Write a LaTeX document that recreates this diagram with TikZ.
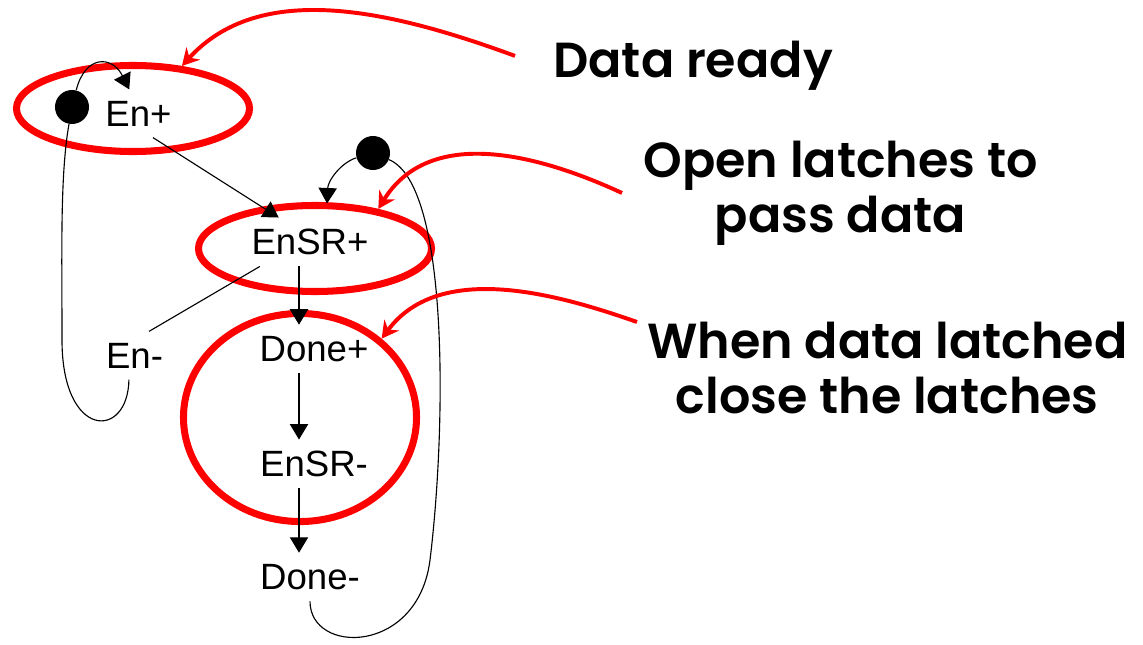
\documentclass[tikz,border=0pt]{standalone}
\usepackage{fontspec}
\setmainfont{Liberation Sans}
\newfontfamily\notefont{Poppins}[BoldFont={* SemiBold}]
\usepackage{tikz}
\usetikzlibrary{arrows.meta,shapes.geometric}
\definecolor{markred}{HTML}{FF0000}

\begin{document}
\begin{tikzpicture}[
  x=0.025cm, y=-0.025cm,
  >={Triangle[length=11pt,width=13pt]},
  state/.style={font=\fontsize{26}{30}\selectfont, inner sep=8pt},
  token/.style={circle, fill=black, inner sep=0pt, minimum size=0.85cm},
  flow/.style={->, line width=0.8pt},
  ring/.style={ellipse, draw=markred, line width=5pt, inner sep=0pt, minimum width=5.825cm},
  note/.style={font=\notefont\bfseries\fontsize{35}{39}\selectfont, align=center, inner ysep=0pt},
  markarrow/.style={draw=markred, line width=2.8pt, -{Stealth[length=12pt,width=13pt,inset=4pt]}}
]
  \useasboundingbox (0,0) rectangle (1143,644);

  % Red highlight rings
  \node[ring, minimum height=2.15cm] (e1) at (133,108.5) {};
  \node[ring, minimum height=2.15cm] (e2) at (315,248.5) {};
  \node[ring, minimum height=5.2cm] (e3) at (300,417.5) {};

  % Signal transitions
  \node[state] (Enp)   at (138.5,113.5) {En+};
  \node[state] (EnSRp) at (310,242)     {EnSR+};
  \node[state] (Enm)   at (134.5,355.5) {En-};
  \node[state] (Donep) at (314,349)     {Done+};
  \node[state] (EnSRm) at (314,464)     {EnSR-};
  \node[state] (Donem) at (310,577)     {Done-};

  % Tokens
  \node[token] (tok1) at (72,107) {};
  \node[token] (tok2) at (373,153) {};

  \coordinate (col) at (299,0);

  % Arcs
  \draw[flow] (Enp.-59) -- (EnSRp.142);
  \draw[line width=0.8pt] (EnSRp.206) -- (Enm.59);
  \draw[flow] (EnSRp.south -| col) -- (Donep.north -| col);
  \draw[flow] (Donep.south -| col) -- (EnSRm.north -| col);
  \draw[flow] (EnSRm.south -| col) -- (Donem.north -| col);

  % Loop back through the tokens
  \draw[line width=0.8pt] (Enm.257) .. controls (128,440) and (62,440) .. (62,340)
    .. controls (62,250) and (60,175) .. (tok1);
  \draw[flow] (tok1) .. controls (85,55) and (112,55) .. (Enp.111);
  \draw[line width=0.8pt] (Donem.south) .. controls (310,655) and (418,655) .. (430,560)
    .. controls (446,430) and (450,185) .. (tok2);
  \draw[flow, shorten >=10pt] (tok2) .. controls (342,162) and (328,180) .. (EnSRp.56);

  % Annotations
  \node[note, inner xsep=27pt, anchor=base west] (ready) at (515,77) {Data ready};
  \node[note, inner xsep=15pt, anchor=west] (open) at (622,193) {Open latches to\\pass data};
  \node[note, inner xsep=7pt, anchor=north west] (when) at (637,322) {When data latched\\close the latches};

  \draw[markarrow] (ready.177) .. controls (390,10) and (260,-20) .. (e1.41);
  \draw[markarrow] (open.west) .. controls (540,155) and (430,125) .. (e2.32);
  \draw[markarrow] (when.north west) .. controls (560,295) and (440,260) .. (e3.44);

\end{tikzpicture}
\end{document}
